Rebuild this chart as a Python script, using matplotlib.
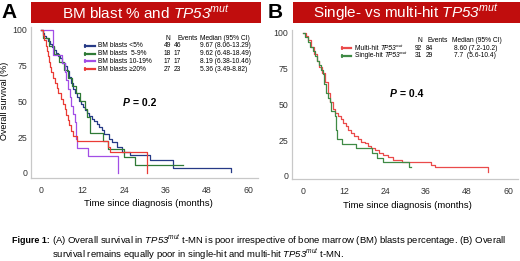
import numpy as np
import matplotlib
matplotlib.use('Agg')
from matplotlib import pyplot as plt
from matplotlib.lines import Line2D
from matplotlib.patches import Rectangle

plt.rcParams['font.family'] = ['Liberation Sans', 'DejaVu Sans']
# 公式部分只用于 TP53^mut，全部斜体
plt.rcParams['mathtext.fontset'] = 'custom'
plt.rcParams['mathtext.rm'] = 'Liberation Sans:italic'
plt.rcParams['mathtext.it'] = 'Liberation Sans:italic'
plt.rcParams['mathtext.bf'] = 'Liberation Sans:bold'

# 面板A：按骨髓原始细胞比例分组（时间，生存率%）
a_labels = ['BM blasts <5%', 'BM blasts  5-9%', 'BM blasts 10-19%', 'BM blasts \u226520%']
a_n = ['49', '18', '17', '27']
a_events = ['46', '17', '17', '23']
a_median = ['9.67 (8.06-13.29)', '9.62 (6.48-18.49)', '8.19 (6.38-10.46)', '5.36 (3.49-8.82)']
a_colors = ['#263a86', '#2f7a36', '#a24ee6', '#ea3b35']

blue_t = [0, 0.5, 1.0, 1.5, 2.0, 2.6, 3.2, 3.8, 4.4, 5.0, 5.6, 6.2, 6.8, 7.4, 8.0, 8.6, 9.2, 9.8, 10.4, 11.0,
          11.6, 12.2, 12.8, 13.4, 14.0, 14.7, 15.4, 16.1, 16.8, 17.5, 18.2, 19.5, 20.5, 22.0, 23.5, 25.7, 31.5, 38.0, 55.0]
blue_s = [100, 98, 96, 94, 92, 90, 88, 86, 84, 82, 80, 77, 75, 71, 67, 63, 59, 56, 53, 50,
          48, 46, 44, 42, 40, 38, 36, 34, 32, 30, 27, 24, 22, 18, 15, 12.5, 9, 3.5, 1]
green_t = [0, 0.6, 2.2, 3.8, 5.2, 6.6, 7.8, 9.0, 10.2, 11.4, 12.6, 13.4, 14.2, 18.0, 19.3, 24.0, 27.2, 41.0]
green_s = [100, 94.4, 88.9, 83.3, 77.8, 72.2, 66.7, 61.1, 55.6, 50.0, 44.4, 38.9, 27.8, 22.2, 16.7, 11.1, 5.6, 5.6]
purple_t = [0, 0.4, 3.4, 6.2, 6.8, 7.3, 7.8, 8.3, 8.8, 9.3, 9.8, 10.0, 10.2, 10.4, 13.7, 22.2]
purple_s = [100, 100, 82.4, 76.5, 70.6, 64.7, 58.8, 52.9, 47.1, 41.2, 35.3, 29.4, 23.5, 17.6, 11.8, 0]
red_t = [0, 0.6, 1.0, 1.4, 1.8, 2.1, 2.3, 2.6, 3.0, 3.5, 4.0, 4.5, 5.0, 5.7, 6.4, 6.9, 7.3, 7.8, 8.2, 8.6,
         9.3, 10.3, 19.3, 20.0, 30.6]
red_s = [100, 96.3, 92.6, 88.9, 85.2, 81.5, 77.8, 74.1, 70.4, 66.7, 63.0, 59.3, 55.6, 51.9, 48.1, 44.4, 40.7,
         37.0, 33.3, 29.6, 25.9, 22.2, 18.5, 14.8, 0]
a_curves = [(blue_t, blue_s), (green_t, green_s), (purple_t, purple_s), (red_t, red_s)]

# 面板B：单打击与多打击
b_labels = ['Multi-hit ', 'Single-hit ']
b_n = ['92', '31']
b_events = ['84', '29']
b_median = ['8.60 (7.2-10.2)', '7.7  (5.6-10.4)']
b_colors = ['#ea4a4a', '#3f8a45']

multi_t = [0, 0.8, 1.6, 2.4, 3.2, 4.0, 4.8, 5.6, 6.4, 7.2, 7.9, 8.7, 9.5, 10.3, 11.0, 11.8, 12.5, 13.3, 14.2,
           15.0, 16.0, 17.0, 18.1, 19.0, 20.0, 21.0, 22.2, 23.4, 24.8, 26.3, 29.0, 37.5, 38.5, 54.0]
multi_s = [100, 98, 95, 90, 85, 80, 76, 72, 66, 58, 52, 47, 44, 42, 40, 37, 35, 32, 30,
           28, 26, 24, 23, 21, 19.5, 18, 16, 14.7, 13, 11, 10, 8, 6, 3]
single_t = [0, 0.6, 1.4, 2.2, 3.0, 3.6, 4.2, 4.8, 5.2, 5.8, 6.3, 6.8, 7.3, 7.8, 8.3, 9.3, 9.6, 10.0,
            11.5, 15.5, 20.2, 21.8, 23.5, 31.0, 31.6]
single_s = [100, 96.8, 93.5, 90.3, 87.1, 83.9, 80.6, 77.4, 74.2, 71.0, 64.5, 58.1, 54.8, 51.6, 45.2, 41.9,
            32.3, 25.8, 22.6, 19.4, 16.1, 12.9, 9.7, 6.5, 6.5]
b_curves = [(multi_t, multi_s), (single_t, single_s)]

xticks = [0, 12, 24, 36, 48, 60]
yticks = [0, 25, 50, 75, 100]

W, H = 520, 261
f = plt.figure(figsize=(W / 100, H / 100), dpi=100)


def fx(x):
    return x / W


def fy(y):
    return 1 - y / H


def style_axes(ax):
    for s in ['top', 'right']:
        ax.spines[s].set_visible(False)
    for s in ['left', 'bottom']:
        ax.spines[s].set_color('#c8c8c8')
        ax.spines[s].set_linewidth(0.9)
    ax.set_xticks(xticks)
    ax.set_yticks(yticks)
    ax.tick_params(length=0, labelsize=6.3, colors='#333333')
    ax.tick_params(axis='x', pad=6)
    ax.tick_params(axis='y', pad=2.5)


# 左侧图形
ax1 = f.add_axes([fx(31), fy(178), fx(258 - 31), (178 - 27) / H])
for (t, s), c in zip(a_curves, a_colors):
    ax1.step(t, s, where='post', color=c, linewidth=0.9)
ax1.set_xlim(-2.9, 62.7)
ax1.set_ylim(-3.5, 102)
style_axes(ax1)

# 右侧图形
ax2 = f.add_axes([fx(292), fy(179), fx(518 - 292), (179 - 30) / H])
for (t, s), c in zip(b_curves, b_colors):
    ax2.step(t, s, where='post', color=c, linewidth=0.9)
ax2.set_xlim(-3.2, 62.9)
ax2.set_ylim(-2.1, 102)
style_axes(ax2)

# 标题框
for x0, x1, lx, letter, title, cx in [(31, 261, 1, 'A', 'BM blast % and $TP53^{mut}$', 146),
                                       (293, 520, 268, 'B', 'Single- vs multi-hit $TP53^{mut}$', 406)]:
    f.add_artist(Rectangle((fx(x0), fy(23)), fx(x1 - x0), 21 / H, transform=f.transFigure,
                           facecolor='#c00d0d', edgecolor='none'))
    f.text(fx(cx), fy(13), title, color='white', fontsize=11, ha='center', va='center')
    f.text(fx(lx), fy(13), letter, fontsize=15, fontweight='bold', ha='left', va='center')

# 坐标轴标签
f.text(fx(5), fy(101), 'Overall survival (%)', rotation=90, fontsize=6.5, ha='center', va='center')
f.text(fx(148), fy(204), 'Time since diagnosis (months)', fontsize=6.8, ha='center', va='center')
f.text(fx(407), fy(205), 'Time since diagnosis (months)', fontsize=6.8, ha='center', va='center')

# 图例A
fs = 4.8
f.text(fx(166), fy(39), 'N', fontsize=fs, va='center')
f.text(fx(177), fy(39), 'Events', fontsize=fs, va='center')
f.text(fx(200), fy(39), 'Median (95% CI)', fontsize=fs, va='center')
for i in range(4):
    y = 46 + i * 7.7
    f.add_artist(Line2D([fx(85), fx(95)], [fy(y), fy(y)], transform=f.transFigure, color=a_colors[i],
                        linewidth=1.6, marker='|', markevery=[0], markersize=3.5, markeredgewidth=1.2))
    f.text(fx(98), fy(y), a_labels[i], fontsize=fs, va='center')
    f.text(fx(164), fy(y), a_n[i], fontsize=fs, va='center')
    f.text(fx(174), fy(y), a_events[i], fontsize=fs, va='center')
    f.text(fx(200), fy(y), a_median[i], fontsize=fs, va='center')

# 图例B（TP53 斜体 + 上标 mut 分开写）
f.text(fx(418), fy(40), 'N', fontsize=fs, va='center')
f.text(fx(428), fy(40), 'Events', fontsize=fs, va='center')
f.text(fx(452), fy(40), 'Median (95% CI)', fontsize=fs, va='center')
for i in range(2):
    y = 48 + i * 7.5
    f.add_artist(Line2D([fx(342), fx(351)], [fy(y), fy(y)], transform=f.transFigure, color=b_colors[i],
                        linewidth=1.6, marker='|', markevery=[0], markersize=3.5, markeredgewidth=1.2))
    lab = f.text(fx(355), fy(y), b_labels[i], fontsize=fs, va='center')
    gene = ax2.annotate('TP53', xy=(1, 0.5), xycoords=lab, fontsize=fs, fontstyle='italic',
                        va='center', ha='left', annotation_clip=False)
    ax2.annotate('mut', xy=(1, 0.85), xycoords=gene, fontsize=3.2, fontstyle='italic',
                 va='center', ha='left', annotation_clip=False)
    f.text(fx(415), fy(y), b_n[i], fontsize=fs, va='center')
    f.text(fx(426), fy(y), b_events[i], fontsize=fs, va='center')
    f.text(fx(454), fy(y), b_median[i], fontsize=fs, va='center')

# P值
f.text(fx(123), fy(103), 'P', fontsize=7.5, fontweight='bold', fontstyle='italic', va='center')
f.text(fx(133), fy(103), '= 0.2', fontsize=7.5, fontweight='bold', va='center')
f.text(fx(390), fy(94), 'P', fontsize=7.5, fontweight='bold', fontstyle='italic', va='center')
f.text(fx(400), fy(94), '= 0.4', fontsize=7.5, fontweight='bold', va='center')

# 图注
f.text(fx(12), fy(240.5), 'Figure 1:', fontsize=6.4, fontweight='bold', va='center')
cfs = 6.8
f.text(fx(52), fy(240.5), '(A) Overall survival in $TP53^{mut}$ t-MN is poor irrespective of '
       'bone marrow (BM) blasts percentage. (B) Overall', fontsize=cfs, va='center')
f.text(fx(52), fy(254.5), 'survival remains equally poor in single-hit and multi-hit $TP53^{mut}$ t-MN.',
       fontsize=cfs, va='center')

plt.savefig('out.png', dpi=100)
